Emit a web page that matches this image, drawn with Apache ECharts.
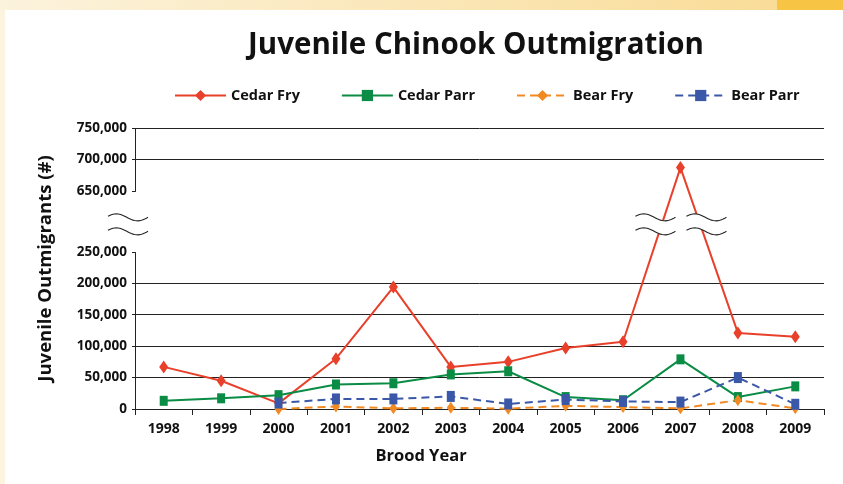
<!DOCTYPE html>
<html>
<head>
<meta charset="utf-8">
<script src="https://cdn.jsdelivr.net/npm/echarts@6/dist/echarts.min.js"></script>
<style>
html,body{margin:0;padding:0;background:#fff;}
#c{width:843px;height:484px;}
</style>
</head>
<body>
<div id="c"></div>
<script>
const years = ['1998','1999','2000','2001','2002','2003','2004','2005','2006','2007','2008','2009'];
const cedarFry  = [67000, 45000, 9000, 80000, 194000, 67000, 75000, 97000, 107000, 687000, 121000, 115000];
const cedarParr = [13000, 17000, 22000, 39000, 41000, 55000, 60000, 19000, 14000, 79000, 19000, 36000];
const bearFry   = [null, null, 0, 4000, 1000, 2000, 500, 5000, 3000, 1000, 14000, 1000];
const bearParr  = [null, null, 9500, 16000, 16000, 20000, 8000, 15000, 12000, 11000, 50000, 7500];
const yTicks = [0, 50000, 100000, 150000, 200000, 250000, 650000, 700000, 750000];
const breakStart = 250000, breakEnd = 650000;

const FONT = '"Open Sans", "DejaVu Sans", sans-serif';
const GRID = {left: 135, right: 19, top: 128, bottom: 75};

const chart = echarts.init(document.getElementById('c'), null, {renderer: 'canvas'});

function lineSeries(name, data, color, symbol, size, dashed) {
  return {
    name, type: 'line', data,
    symbol, symbolSize: size,
    connectNulls: false,
    lineStyle: {color, width: 2, type: dashed ? [8, 5] : 'solid'},
    itemStyle: {color},
    emphasis: {disabled: true},
    animation: false
  };
}

const option = {
  animation: false,
  backgroundColor: '#fff',
  textStyle: {fontFamily: FONT},
  title: [
    {text: 'Juvenile Chinook Outmigration', left: 476, top: 31, textAlign: 'center', padding: 0,
     textStyle: {fontFamily: FONT, fontSize: 29.5, fontWeight: 'bold', color: '#111'}},
    {text: 'Brood Year', left: 421, top: 448, textAlign: 'center', padding: 0,
     textStyle: {fontFamily: FONT, fontSize: 16.5, fontWeight: 'bold', color: '#111'}}
  ],
  legend: {
    left: 169, top: 83, itemWidth: 51, itemHeight: 14, itemGap: 41,
    textStyle: {fontFamily: FONT, fontSize: 14.5, fontWeight: 'bold', color: '#111'},
    data: ['Cedar Fry', 'Cedar Parr', 'Bear Fry', 'Bear Parr']
  },
  grid: GRID,
  xAxis: {
    type: 'category', data: years, boundaryGap: true,
    axisLine: {lineStyle: {color: '#222', width: 1}},
    axisTick: {show: true, interval: 0, length: 6, lineStyle: {color: '#222'}},
    axisLabel: {interval: 0, margin: 13, fontFamily: FONT, fontSize: 14, fontWeight: 'bold', color: '#111'}
  },
  yAxis: {
    type: 'value', min: 0, max: 750000, interval: 50000,
    breaks: [{start: breakStart, end: breakEnd, gap: 97000}],
    breakArea: {show: false},
    axisLine: {show: true, lineStyle: {color: '#222', width: 1}},
    axisTick: {show: true, length: 3, lineStyle: {color: '#222'}},
    splitLine: {show: true, lineStyle: {color: '#222', width: 1}},
    axisLabel: {
      margin: 8, fontFamily: FONT, fontSize: 13.5, fontWeight: 'bold', color: '#111',
      formatter: v => (yTicks.indexOf(v) >= 0 ? v.toLocaleString('en-US') : '')
    },
    name: 'Juvenile Outmigrants (#)', nameLocation: 'middle', nameGap: 80,
    nameTextStyle: {fontFamily: FONT, fontSize: 18.5, fontWeight: 'bold', color: '#111'}
  },
  series: [
    lineSeries('Cedar Fry', cedarFry, '#e8402a', 'diamond', [9, 13], false),
    lineSeries('Cedar Parr', cedarParr, '#0a8c45', 'rect', [8, 10], false),
    lineSeries('Bear Fry', bearFry, '#f28a24', 'diamond', [8, 12], true),
    lineSeries('Bear Parr', bearParr, '#3b58a8', 'rect', [8, 11], true)
  ]
};
chart.setOption(option);

function wavePts(cx, cy, w, amp) {
  const pts = [];
  for (let i = 0; i <= 24; i++) {
    const t = i / 24;
    pts.push([cx - w / 2 + w * t, cy - amp * Math.sin(2 * Math.PI * (t * 0.95 + 0.05))]);
  }
  return pts;
}
function breakMark(cx, cy, w) {
  const top = wavePts(cx, cy - 7, w, 3.5);
  const bot = wavePts(cx, cy + 7, w, 3.5);
  const fill = top.concat(bot.slice().reverse());
  return [
    {type: 'polygon', shape: {points: fill}, style: {fill: '#fff'}, z: 100, silent: true},
    {type: 'polyline', shape: {points: top}, style: {stroke: '#222', lineWidth: 1.1, fill: null}, z: 101, silent: true},
    {type: 'polyline', shape: {points: bot}, style: {stroke: '#222', lineWidth: 1.1, fill: null}, z: 101, silent: true}
  ];
}
const yA = chart.convertToPixel({yAxisIndex: 0}, breakStart);
const yB = chart.convertToPixel({yAxisIndex: 0}, breakEnd);
const ym = (yA + yB) / 2 + 3;
const x07 = chart.convertToPixel({xAxisIndex: 0}, '2007');
const frame = [
  {type: 'rect', shape: {x: 0, y: 0, width: 5, height: 484}, style: {fill: '#fcf4de'}, z: 0, silent: true},
  {type: 'rect', shape: {x: 0, y: 0, width: 777, height: 10}, z: 0, silent: true,
   style: {fill: new echarts.graphic.LinearGradient(0, 0, 1, 0, [{offset: 0, color: '#fcf3dd'}, {offset: 1, color: '#f9dc98'}])}},
  {type: 'rect', shape: {x: 777, y: 0, width: 66, height: 10}, style: {fill: '#f8c443'}, z: 0, silent: true}
];
chart.setOption({
  graphic: frame
    .concat(breakMark(GRID.left - 7, ym, 40))
    .concat(breakMark(x07 - 25, ym, 40))
    .concat(breakMark(x07 + 26, ym, 40))
});
</script>
</body>
</html>
